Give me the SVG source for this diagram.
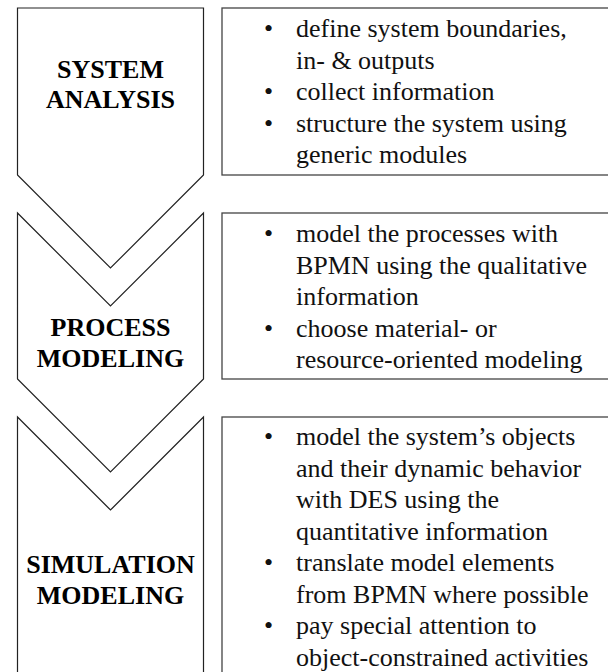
<svg xmlns="http://www.w3.org/2000/svg" width="608" height="672" viewBox="0 0 608 672">
<style>
.shape{fill:#fff;stroke:#222;stroke-width:1.2}
.box{fill:#fff;stroke:#444;stroke-width:1.3}
.lbl{font-family:"Liberation Serif","Times New Roman",serif;font-weight:bold;font-size:26px;fill:#000;text-anchor:middle}
.txt{font-family:"Liberation Serif","Times New Roman",serif;font-size:26px;fill:#111}
</style>
<rect width="608" height="672" fill="#fff"/>
<g id="step1">
<path class="shape" d="M17.5,8 H203.5 V175 L110.5,268 L17.5,175 Z"/>
<text class="lbl" x="110.5" y="78">SYSTEM</text>
<text class="lbl" x="110.5" y="108">ANALYSIS</text>
</g>
<g id="step2">
<path class="shape" d="M17.5,213 L110.5,306 L203.5,213 V379 L110.5,472 L17.5,379 Z"/>
<text class="lbl" x="110.5" y="336">PROCESS</text>
<text class="lbl" x="110.5" y="367">MODELING</text>
</g>
<g id="step3">
<path class="shape" d="M17.5,417 L110.5,510 L203.5,417 V690 H17.5 Z"/>
<text class="lbl" x="110.5" y="573">SIMULATION</text>
<text class="lbl" x="110.5" y="604">MODELING</text>
</g>
<g id="box1">
<rect class="box" x="222" y="8" width="400" height="167"/>
<text class="txt" x="264" y="37">•</text>
<text class="txt" x="296" y="37">define system boundaries,</text>
<text class="txt" x="296" y="68.5">in- &amp; outputs</text>
<text class="txt" x="264" y="100">•</text>
<text class="txt" x="296" y="100">collect information</text>
<text class="txt" x="264" y="131.5">•</text>
<text class="txt" x="296" y="131.5">structure the system using</text>
<text class="txt" x="296" y="163">generic modules</text>
</g>
<g id="box2">
<rect class="box" x="222" y="213" width="400" height="166"/>
<text class="txt" x="264" y="242">•</text>
<text class="txt" x="296" y="242">model the processes with</text>
<text class="txt" x="296" y="273.5">BPMN using the qualitative</text>
<text class="txt" x="296" y="305">information</text>
<text class="txt" x="264" y="336.5">•</text>
<text class="txt" x="296" y="336.5">choose material- or</text>
<text class="txt" x="296" y="368">resource-oriented modeling</text>
</g>
<g id="box3">
<rect class="box" x="222" y="417" width="400" height="280"/>
<text class="txt" x="264" y="445">•</text>
<text class="txt" x="296" y="445">model the system’s objects</text>
<text class="txt" x="296" y="476.5">and their dynamic behavior</text>
<text class="txt" x="296" y="508">with DES using the</text>
<text class="txt" x="296" y="539.5">quantitative information</text>
<text class="txt" x="264" y="571">•</text>
<text class="txt" x="296" y="571">translate model elements</text>
<text class="txt" x="296" y="602.5">from BPMN where possible</text>
<text class="txt" x="264" y="634">•</text>
<text class="txt" x="296" y="634">pay special attention to</text>
<text class="txt" x="296" y="665.5">object-constrained activities</text>
</g>
<g id="connectors"></g>
</svg>
